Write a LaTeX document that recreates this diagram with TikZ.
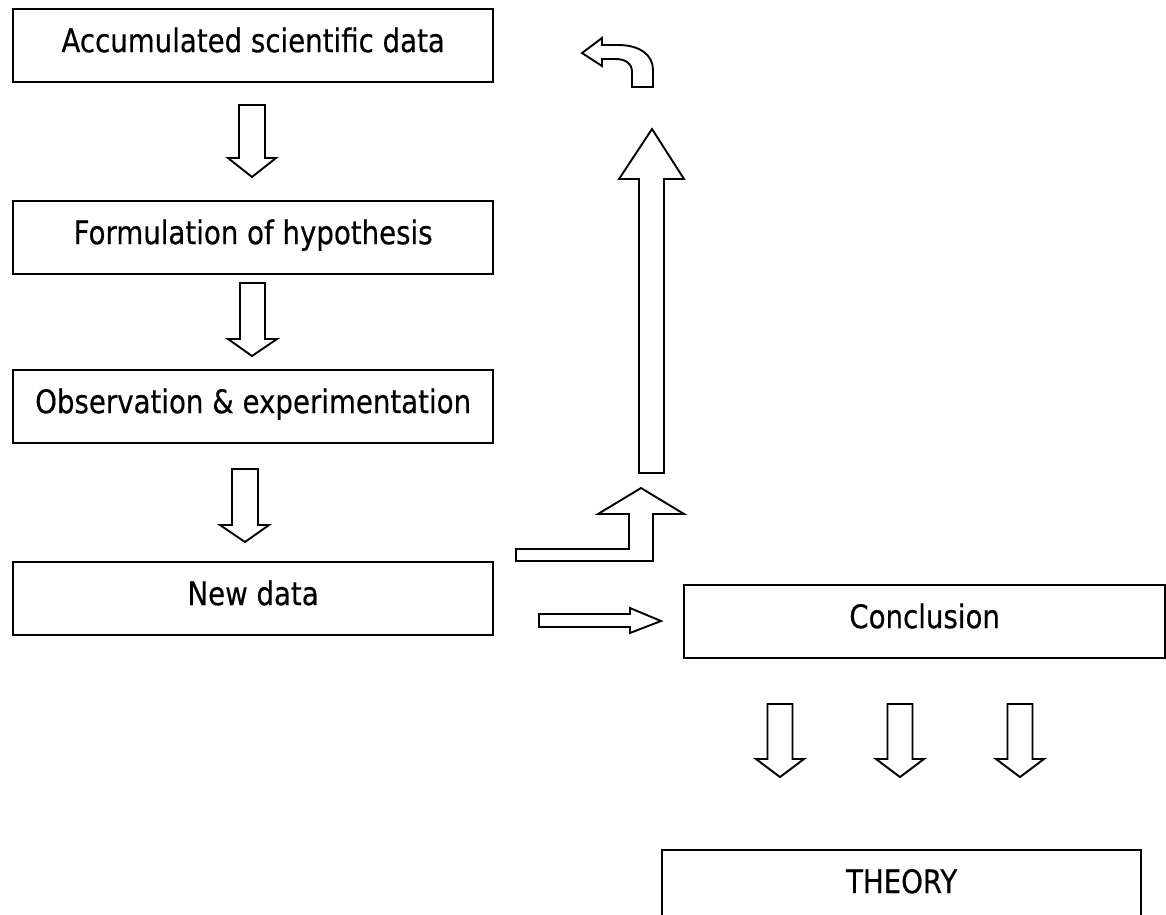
\documentclass[tikz,border=0pt]{standalone}
\usepackage{fontspec}
\setmainfont[FakeStretch=0.85,FakeBold=0.4]{DejaVu Sans}
\begin{document}
\begin{tikzpicture}[x=1pt,y=-1pt,
  box/.style={draw, line width=2.3pt, rectangle, inner sep=0pt, anchor=north west,
    minimum width=480pt, text height=43pt, text depth=29.5pt,
    font=\fontsize{32.5}{37}\selectfont},
  blk/.style={draw, line width=1.9pt, line join=miter, fill=white}]
\useasboundingbox (0,0) rectangle (1166,914);

% boxes
\node[box] (acc) at (12,8) {Accumulated scientific data};
\node[box] (hyp) at (12,200) {Formulation of hypothesis};
\node[box] (obs) at (12,369) {Observation \& experimentation};
\node[box] (new) at (12,561) {New data};
\node[box, minimum width=481pt] (con) at (683,584) {Conclusion};
\node[box, minimum width=479pt] (the) at (661,849) {THEORY};

% down block arrows on the left
\draw[blk] (239,105) -- (265,105) -- (265,158) -- (276,158) -- (252,177) -- (228,158) -- (239,158) -- cycle;
\draw[blk] (240,283) -- (265,283) -- (265,339) -- (277,339) -- (252,356) -- (228,339) -- (240,339) -- cycle;
\draw[blk] (232,469) -- (258,469) -- (258,525) -- (269,525) -- (245,542) -- (220,525) -- (232,525) -- cycle;

% down block arrows under Conclusion
\foreach \c in {780,900,1020}{
  \draw[blk] (\c-12.5,704) -- (\c+12.5,704) -- (\c+12.5,759) -- (\c+24,759) -- (\c,777) -- (\c-24,759) -- (\c-12.5,759) -- cycle;
}

% right block arrow New data -> Conclusion
\draw[blk] (539,614) -- (630,614) -- (630,608) -- (661,621) -- (630,633) -- (630,627) -- (539,627) -- cycle;

% bent arrow
\draw[blk] (516,549) -- (629,549) -- (629,514) -- (598,514) -- (641,488) -- (684,514) -- (653,514) -- (653,561) -- (516,561) -- cycle;

% big up arrow
\draw[blk] (639,473) -- (639,179) -- (619,179) -- (652,129) -- (684,179) -- (664,179) -- (664,473) -- cycle;

% curved arrow top
\draw[blk] (582,53) -- (602,38) -- (602,45) -- (618,45) .. controls (640,45) and (653,55) .. (653,70) -- (653,87) -- (632,87) -- (632,72) .. controls (632,63) and (625,59) .. (615,59) -- (602,59) -- (602,66) -- cycle;
\end{tikzpicture}
\end{document}
